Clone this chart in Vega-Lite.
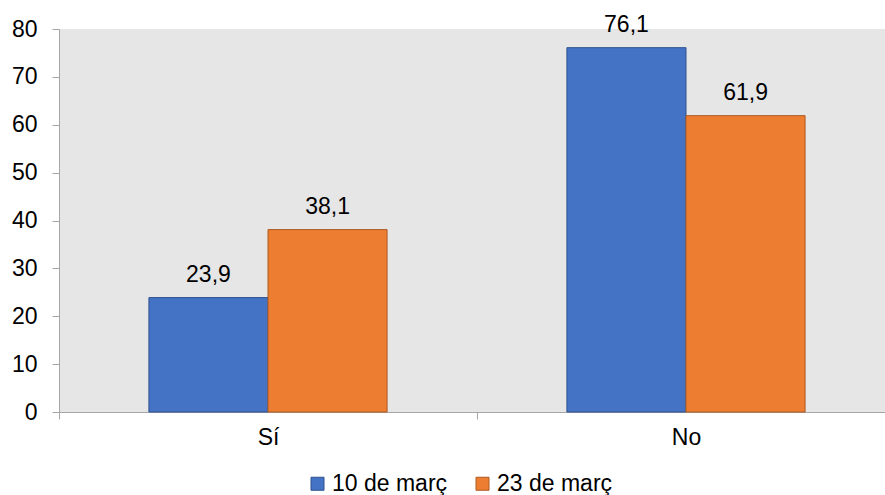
{
  "$schema": "https://vega.github.io/schema/vega-lite/v6.json",
  "autosize": "none",
  "width": 836,
  "height": 383,
  "padding": {"left": 59, "top": 29, "right": 0, "bottom": 83},
  "background": "white",
  "config": {
    "locale": {"number": {"decimal": ",", "thousands": ".", "grouping": [3], "currency": ["", " €"]}},
    "font": "Liberation Sans",
    "view": {"fill": "#E6E6E6", "stroke": null}
  },
  "data": {
    "values": [
      {"resposta": "Sí", "data": "10 de març", "valor": 23.9},
      {"resposta": "Sí", "data": "23 de març", "valor": 38.1},
      {"resposta": "No", "data": "10 de març", "valor": 76.1},
      {"resposta": "No", "data": "23 de març", "valor": 61.9}
    ]
  },
  "encoding": {
    "x": {
      "field": "resposta", "type": "nominal", "sort": ["Sí", "No"],
      "scale": {"paddingInner": 0, "paddingOuter": 0},
      "axis": {"title": null, "labelAngle": 0, "labelFontSize": 23, "labelColor": "#000000", "labelPadding": 7,
               "domainColor": "#A6A6A6", "tickColor": "#A6A6A6", "tickBand": "extent", "tickSize": 7, "grid": false}
    },
    "xOffset": {"field": "data", "type": "nominal", "scale": {"paddingInner": 0, "paddingOuter": 0.755}},
    "y": {
      "field": "valor", "type": "quantitative",
      "scale": {"domain": [0, 80], "nice": false},
      "axis": {"title": null, "values": [0, 10, 20, 30, 40, 50, 60, 70, 80], "labelFontSize": 23, "labelColor": "#000000",
               "labelPadding": 15, "domainColor": "#A6A6A6", "tickColor": "#A6A6A6", "tickSize": 7, "grid": false}
    }
  },
  "layer": [
    {
      "mark": {"type": "bar", "strokeWidth": 1},
      "encoding": {
        "color": {
          "field": "data", "type": "nominal",
          "scale": {"domain": ["10 de març", "23 de març"], "range": ["#4472C4", "#ED7D31"]},
          "legend": {"title": null, "orient": "none", "legendX": 247, "legendY": 443, "direction": "horizontal",
                     "symbolType": "square", "symbolSize": 169, "symbolStrokeWidth": 1, "symbolOpacity": 1,
                     "labelFontSize": 23, "labelColor": "#000000", "labelOffset": 3, "columnPadding": 23}
        },
        "stroke": {
          "field": "data", "type": "nominal",
          "scale": {"domain": ["10 de març", "23 de març"], "range": ["#2F528F", "#AE5A21"]},
          "legend": null
        }
      }
    },
    {
      "mark": {"type": "text", "baseline": "alphabetic", "dy": -16, "fontSize": 23, "color": "#000000"},
      "encoding": {
        "text": {"field": "valor", "type": "quantitative", "format": ".1f"}
      }
    }
  ]
}
